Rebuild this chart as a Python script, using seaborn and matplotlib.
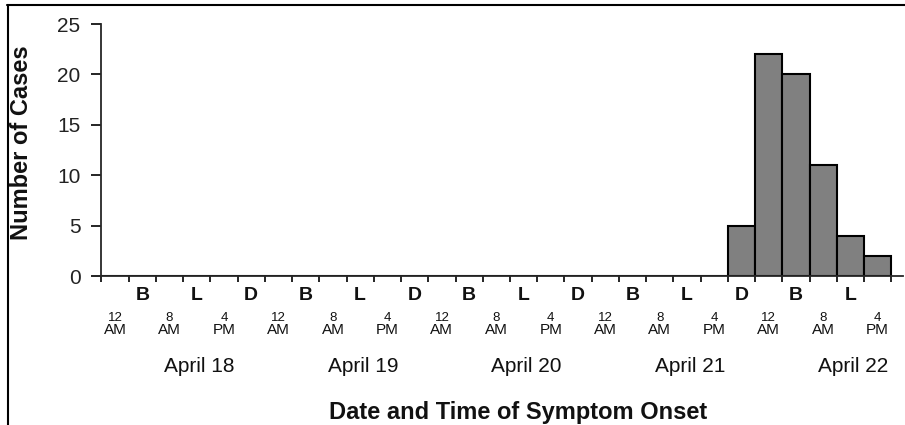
"""Epidemic curve: cases by date and time of symptom onset."""

import numpy as np
import pandas as pd
import matplotlib
matplotlib.use("Agg")
import matplotlib.pyplot as plt
from matplotlib.lines import Line2D
import seaborn as sns

# 4-hour bins from April 18 12 AM to April 22 8 PM
case_counts = [0, 0, 0, 0, 0, 0,   # April 18
               0, 0, 0, 0, 0, 0,   # April 19
               0, 0, 0, 0, 0, 0,   # April 20
               0, 0, 0, 0, 0, 5,   # April 21
               22, 20, 11, 4, 2]   # April 22
time_numbers = ["12", "8", "4"]
time_suffixes = ["AM", "AM", "PM"]
meal_letters = ["B", "L", "D"]
dates = ["April 18", "April 19", "April 20", "April 21", "April 22"]
y_ticks = [0, 5, 10, 15, 20, 25]

sns.set_theme(style="ticks")
plt.rcParams["font.family"] = ["Liberation Sans", "DejaVu Sans"]

n_bins = len(case_counts)
df = pd.DataFrame({"bin": np.arange(n_bins) + 0.5, "cases": case_counts})

fig = plt.figure(figsize=(9.05, 4.25), dpi=100)
ax = fig.add_axes([93 / 905, 1 - 276 / 425, 810 / 905, 252 / 425])

sns.barplot(data=df, x="bin", y="cases", native_scale=True, width=1,
            color="#808080", saturation=1, edgecolor="black", linewidth=1.5, ax=ax)

ax.set_xlim(-0.31, n_bins + 0.43)
ax.set_ylim(0, 25)
ax.spines["left"].set_position(("data", 0))
ax.spines["left"].set_linewidth(1.3)
ax.spines["bottom"].set_linewidth(1.3)
sns.despine(ax=ax)

ax.set_yticks(y_ticks)
ax.tick_params(axis="y", labelsize=15, length=7, width=1.2, pad=8, colors="black")
ax.set_xticks(np.arange(0, n_bins + 1))
ax.set_xticklabels([])
ax.tick_params(axis="x", length=4, width=1.2, colors="black")
ax.set_xlabel("")
ax.set_ylabel("")
for lab in ax.get_yticklabels():
    lab.set_color("#222222")


def label_below(text, x, dy, **kw):
    ax.annotate(text, xy=(x, 0), xycoords=("data", "axes fraction"),
                xytext=(0, -dy), textcoords="offset pixels",
                ha="center", va="center", color="#111111", **kw)


# clock times under every other bin, meal letters under the ones between
for i in range(0, n_bins, 2):
    k = (i // 2) % 3
    label_below(time_numbers[k], i + 0.5, 42, fontsize=9.5)
    label_below(time_suffixes[k], i + 0.5, 54, fontsize=11)

for i in range(1, n_bins, 2):
    label_below(meal_letters[(i // 2) % 3], i + 0.5, 19, fontsize=14, fontweight="bold")

for d, date in enumerate(dates):
    label_below(date, 6 * d + 3.6, 90, fontsize=15)

fig.text(0.5 * (328 + 708) / 905, 1 - 412 / 425, "Date and Time of Symptom Onset",
         ha="center", va="center", fontsize=17, fontweight="bold", color="#111111")
fig.text(22 / 905, 1 - 143 / 425, "Number of Cases", rotation=90,
         ha="center", va="center", fontsize=17, fontweight="bold", color="#111111")

# frame of the cropped original figure
fig.add_artist(Line2D([7.5 / 905, 7.5 / 905], [0, 1 - 5 / 425],
                      transform=fig.transFigure, color="black", lw=1.5))
fig.add_artist(Line2D([7 / 905, 1], [1 - 5 / 425, 1 - 5 / 425],
                      transform=fig.transFigure, color="black", lw=1.5))

fig.savefig("out.png", dpi=100)
plt.close(fig)
